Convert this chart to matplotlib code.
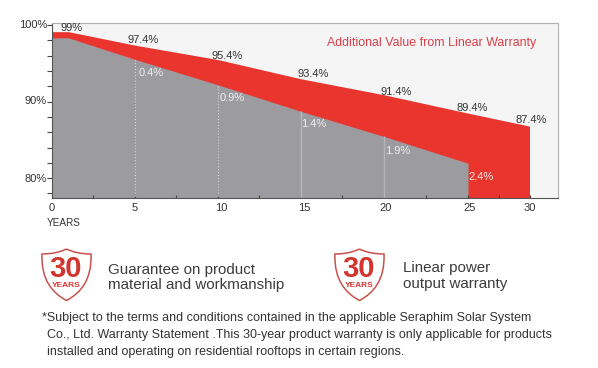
import matplotlib
matplotlib.use('Agg')
import matplotlib.pyplot as plt
from matplotlib.patches import PathPatch
from matplotlib.path import Path
import numpy as np

matplotlib.rcParams['font.family'] = 'Liberation Sans'

# values as drawn in the picture (the printed labels differ a bit from the drawn line)
years = [0, 1, 5, 10, 15, 20, 25, 30]
total_power = [99.15, 99.15, 97.4, 95.5, 93.0, 90.9, 88.5, 86.8]
std_years = [0, 1, 5, 10, 15, 20, 25]
std_power = [98.35, 98.35, 95.55, 92.2, 88.75, 85.45, 81.95]

total_labels = ['99%', '97.4%', '95.4%', '93.4%', '91.4%', '89.4%', '87.4%']
gain_labels = ['0.4%', '0.9%', '1.4%', '1.9%', '2.4%']
x_ticks = [0, 5, 10, 15, 20, 25, 30]
x_minor = [2.5, 7.5, 12.5, 17.5, 22.5, 27.5]
y_ticks = [80, 90, 100]
y_minor = [78, 82, 84, 86, 88, 92, 94, 96, 98]
y_tick_labels = ['80%', '90%', '100%']

RED = '#ea352e'
GREY = '#9b9ba0'
TEXT = '#333333'
W, H = 598, 368

# the last stretch of the axis is squeezed in the picture
scale_years = [0, 5, 10, 15, 20, 25, 30, 33.4]
scale_px = [0, 82.5, 166, 248.5, 332, 416, 477.5, 506]


def to_px(x):
    return np.interp(x, scale_years, scale_px)


def from_px(x):
    return np.interp(x, scale_px, scale_years)


fig = plt.figure(figsize=(W / 100, H / 100), dpi=100)
ax = fig.add_axes([52 / W, 1 - 198 / H, 506 / W, 175.5 / H])
ax.set_facecolor('#f5f5f5')
ax.set_xscale('function', functions=(to_px, from_px))
ax.set_xlim(0, 33.4)
ax.set_ylim(77.4, 100.35)

ax.fill_between(years, 70, total_power, color=RED, lw=0)
ax.fill_between(std_years, 70, std_power, color=GREY, lw=0)

ax.vlines([5, 10], 70, [std_power[2], std_power[3]], color='#d5d5d8', lw=0.8, ls=':')
ax.vlines([15, 20], 70, [std_power[4], std_power[5]], color='#b5b5ba', lw=1)

ax.set_xticks(x_ticks)
ax.set_xticklabels([])
ax.set_xticks(x_minor, minor=True)
ax.set_yticks(y_ticks)
ax.set_yticklabels([])
ax.set_yticks(y_minor, minor=True)
ax.tick_params(axis='x', which='both', direction='in', length=2, width=0.8, color='#444444')
ax.tick_params(axis='y', which='both', direction='out', length=3.5, width=0.8, color='#444444')
for side in ['top', 'right']:
    ax.spines[side].set_color('#b0b0b0')
for side in ['left', 'bottom']:
    ax.spines[side].set_color('#555555')

# overlay in pixels for the text and the badges
ov = fig.add_axes([0, 0, 1, 1])
ov.set_xlim(0, W)
ov.set_ylim(H, 0)
ov.axis('off')

for lab, y in zip(y_tick_labels, [179, 101, 25]):
    ov.text(47, y, lab, ha='right', va='center', fontsize=8, color=TEXT)
for t, x in zip(x_ticks, [52, 135, 221, 304, 386, 470, 530]):
    ov.text(x, 208, str(t), ha='center', va='center', fontsize=8, color=TEXT)
ov.text(47, 223, 'YEARS', ha='left', va='center', fontsize=7.2, color=TEXT)

total_xy = [(72, 28), (143, 40), (227, 56), (313, 74), (396, 92), (472, 108), (531, 120)]
for lab, (x, y) in zip(total_labels, total_xy):
    ov.text(x, y, lab, ha='center', va='center', fontsize=8, color=TEXT)
gain_xy = [(151, 73), (232, 98), (314, 124), (398, 151), (481, 177)]
for lab, (x, y) in zip(gain_labels, gain_xy):
    ov.text(x, y, lab, ha='center', va='center', fontsize=8, color='#f0f0f0')

ov.text(432, 43, 'Additional Value from Linear Warranty', ha='center', va='center',
        fontsize=8.95, color='#d8404a')


def badge(x0):
    # shield outline, x0 is the left edge
    c = x0 + 24.5
    verts = [(c, 249), (c - 10, 254), (x0, 254),
             (x0 - 1, 280), (c - 14, 293), (c, 300.5),
             (c + 14, 293), (x0 + 50, 280), (x0 + 49, 254),
             (c + 10, 254), (c, 249)]
    codes = [Path.MOVETO, Path.CURVE3, Path.CURVE3,
             Path.CURVE4, Path.CURVE4, Path.CURVE4,
             Path.CURVE4, Path.CURVE4, Path.CURVE4,
             Path.CURVE3, Path.CURVE3]
    ov.add_patch(PathPatch(Path(verts, codes), fc='white', ec='#c9514c', lw=1.1))
    ov.text(c - 0.5, 269, '30', ha='center', va='center', fontsize=21, fontweight='bold', color='#d2352f')
    ov.text(c - 0.5, 285.5, 'YEARS', ha='center', va='center', fontsize=6, fontweight='bold', color='#d2352f')


badge(42)
badge(335)

ov.text(108, 270, 'Guarantee on product', ha='left', va='center', fontsize=10.9, color='#3c3c3c')
ov.text(108, 285, 'material and workmanship', ha='left', va='center', fontsize=10.9, color='#3c3c3c')
ov.text(403, 268, 'Linear power', ha='left', va='center', fontsize=10.9, color='#3c3c3c')
ov.text(403, 284, 'output warranty', ha='left', va='center', fontsize=10.9, color='#3c3c3c')

ov.text(42, 318, '*Subject to the terms and conditions contained in the applicable Seraphim Solar System',
        ha='left', va='center', fontsize=8.97, color='#333333')
ov.text(47, 335, 'Co., Ltd. Warranty Statement .This 30-year product warranty is only applicable for products',
        ha='left', va='center', fontsize=8.97, color='#333333')
ov.text(47, 352, 'installed and operating on residential rooftops in certain regions.',
        ha='left', va='center', fontsize=8.97, color='#333333')

fig.savefig('out.png', dpi=100)
